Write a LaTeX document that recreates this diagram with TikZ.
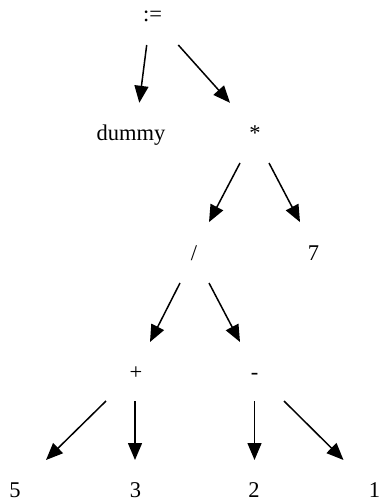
\documentclass[tikz,border=0pt]{standalone}
\usepackage{fontspec}
\setmainfont{Liberation Serif}
\usetikzlibrary{arrows.meta,calc}
\begin{document}
\begin{tikzpicture}[x=1pt,y=-1pt,
  label/.style={inner sep=0pt,anchor=base,font=\fontsize{22.5}{27}\selectfont},
  edge/.style={line width=1.5pt,-{Triangle[length=17pt,width=14pt]}}]
\useasboundingbox (0,0) rectangle (380,502);
% syntax tree nodes (positioned at their baselines)
\node[label] (as)    at (152.5,21.5)  {:=};
\node[label] (dummy) at (131,140.8)   {dummy};
\node[label] (mul)   at (255,140.8)   {*};
\node[label] (div)   at (194,260.1)   {/};
\node[label] (seven) at (313.5,260.1) {7};
\node[label] (plus)  at (136,379.4)   {+};
\node[label] (minus) at (254.5,379.4) {-};
\node[label] (five)  at (15,497.5)    {5};
\node[label] (three) at (135.5,497.5) {3};
\node[label] (two)   at (254,497.5)   {2};
\node[label] (one)   at (374.5,497.5) {1};
% parent -> child edges
\draw[edge] ($(as.base)+(-5.8,23.5)$)    -- ($(dummy.base)+(8.3,-38)$);
\draw[edge] ($(as.base)+(25.8,23.5)$)    -- ($(mul.base)+(-25,-38)$);
\draw[edge] ($(mul.base)+(-15,22.2)$)    -- ($(div.base)+(15,-38)$);
\draw[edge] ($(mul.base)+(14,22.2)$)     -- ($(seven.base)+(-13.5,-38)$);
\draw[edge] ($(div.base)+(-14,22.9)$)    -- ($(plus.base)+(14,-37.4)$);
\draw[edge] ($(div.base)+(15,22.9)$)     -- ($(minus.base)+(-14.5,-37.4)$);
\draw[edge] ($(plus.base)+(-30,21.6)$)   -- ($(five.base)+(31,-37.5)$);
\draw[edge] ($(plus.base)+(-1,21.6)$)    -- ($(three.base)+(-0.5,-37.5)$);
\draw[edge] ($(minus.base)+(0,21.6)$)    -- ($(two.base)+(0.5,-37.5)$);
\draw[edge] ($(minus.base)+(29.5,21.6)$) -- ($(one.base)+(-31,-37.5)$);
\end{tikzpicture}
\end{document}
